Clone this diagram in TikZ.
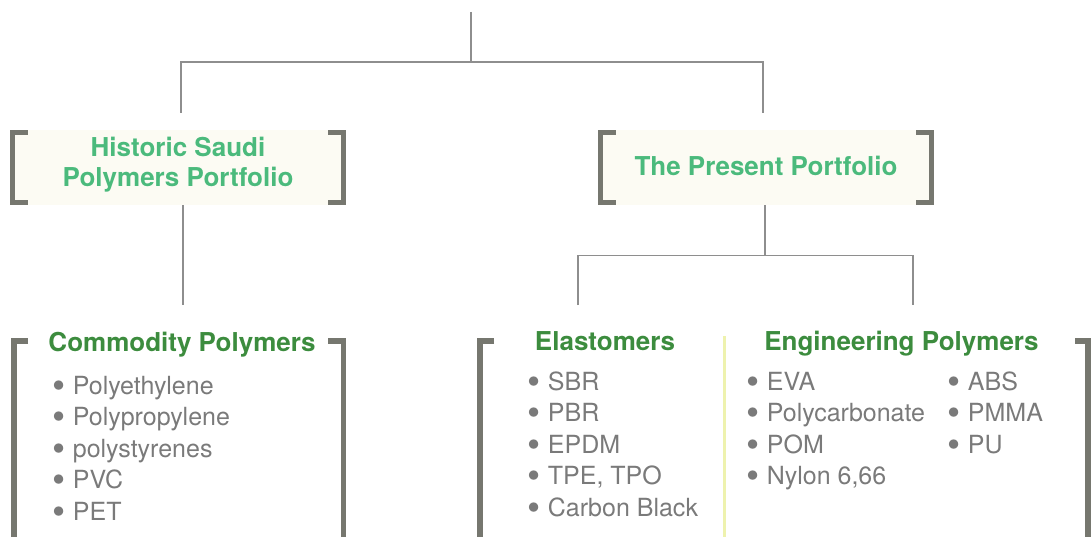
\documentclass[tikz,border=0pt]{standalone}
\usepackage{fontspec}
\setmainfont{TeX Gyre Heros}
\usetikzlibrary{positioning}

\definecolor{boxfill}{HTML}{FCFBF3}
\definecolor{topgreen}{HTML}{4BBA7C}
\definecolor{groupgreen}{HTML}{3C8C3E}
\definecolor{brgray}{HTML}{76776F}
\definecolor{linegray}{HTML}{8E8E8E}
\definecolor{itemgray}{HTML}{7A7A7A}
\definecolor{divcol}{HTML}{EEF2AE}

\begin{document}
\begin{tikzpicture}[x=1pt,y=-1pt,
    link/.style={draw=linegray,line width=1.4pt},
    brk/.style={draw=brgray,line width=5.5pt},
    portbox/.style={fill=boxfill,minimum width=336pt,minimum height=75pt,inner sep=0pt,
        align=center,text=topgreen,font=\fontsize{26}{31}\selectfont\bfseries},
    group/.style={anchor=base,inner sep=0pt,text=groupgreen,font=\fontsize{26}{31}\selectfont\bfseries},
    item/.style={anchor=base west,inner sep=0pt,text=itemgray,font=\fontsize{25}{30}\selectfont,
        execute at begin node={\smash{\raisebox{-4.2pt}{\scalebox{1.5}{\textbullet}}}\hspace{7.6pt}}}]
    \useasboundingbox (0,0) rectangle (1091,537);

    % the two portfolios
    \node[portbox,text depth=11.5pt] (hist) at (178,167.5) {Historic Saudi\\[-1pt]Polymers Portfolio};
    \node[portbox,text depth=3pt] (pres) at (766,167.5) {The Present Portfolio};
    \foreach \n in {hist,pres} {
        \draw[brk] ([shift={(18pt,-2.75pt)}]\n.north west) -- ([shift={(2.75pt,-2.75pt)}]\n.north west)
            -- ([shift={(2.75pt,2.75pt)}]\n.south west) -- ([shift={(18pt,2.75pt)}]\n.south west);
        \draw[brk] ([shift={(-18pt,-2.75pt)}]\n.north east) -- ([shift={(-2.75pt,-2.75pt)}]\n.north east)
            -- ([shift={(-2.75pt,2.75pt)}]\n.south east) -- ([shift={(-18pt,2.75pt)}]\n.south east);
    }

    % tree lines
    \coordinate (root) at (471,12);
    \coordinate (fork) at (471,62);
    \draw[link] (root) -- (fork);
    \draw[link] ([shift={(3pt,17pt)}]hist.north) |- (fork) -| ([shift={(-3pt,17pt)}]pres.north);
    \draw[link] ([xshift=5pt]hist.south) -- ++(0,100);
    \coordinate (pfork) at ([shift={(-1pt,-50pt)}]pres.south);
    \coordinate (elastop) at (578,305);
    \coordinate (engtop) at (913,305);
    \draw[link] ([xshift=-1pt]pres.south) -- (pfork);
    \draw[link] (elastop) |- (pfork) -| (engtop);

    % lower brackets
    \draw[brk] (28,340.75) -| (13.75,545);
    \draw[brk] (328,340.75) -| (343.5,545);
    \draw[brk] (494,340.75) -| (480,545);
    \draw[brk] (1075,340.75) -| (1088,545);
    \draw[divcol,line width=3pt] (724,336) -- (724,545);

    % groups
    \node[group] (comm) at (182,351) {Commodity Polymers};
    \node[group] (elast) at (605,350) {Elastomers};
    \node[group] (eng) at (901.5,350) {Engineering Polymers};

    \foreach \t [count=\i] in {Polyethylene,Polypropylene,polystyrenes,PVC,PET}
        \node[item] (comm\i) at (52,{394+31.5*(\i-1)}) {\t};
    \foreach \t [count=\i] in {SBR,PBR,EPDM,{TPE, TPO},Carbon Black}
        \node[item] (elast\i) at (527,{390+31.5*(\i-1)}) {\t};
    \foreach \t [count=\i] in {EVA,Polycarbonate,POM,{Nylon 6,66}}
        \node[item] (enga\i) at (746,{390+31.5*(\i-1)}) {\t};
    \foreach \t [count=\i] in {ABS,PMMA,PU}
        \node[item] (engb\i) at (947,{390+31.5*(\i-1)}) {\t};
\end{tikzpicture}
\end{document}
